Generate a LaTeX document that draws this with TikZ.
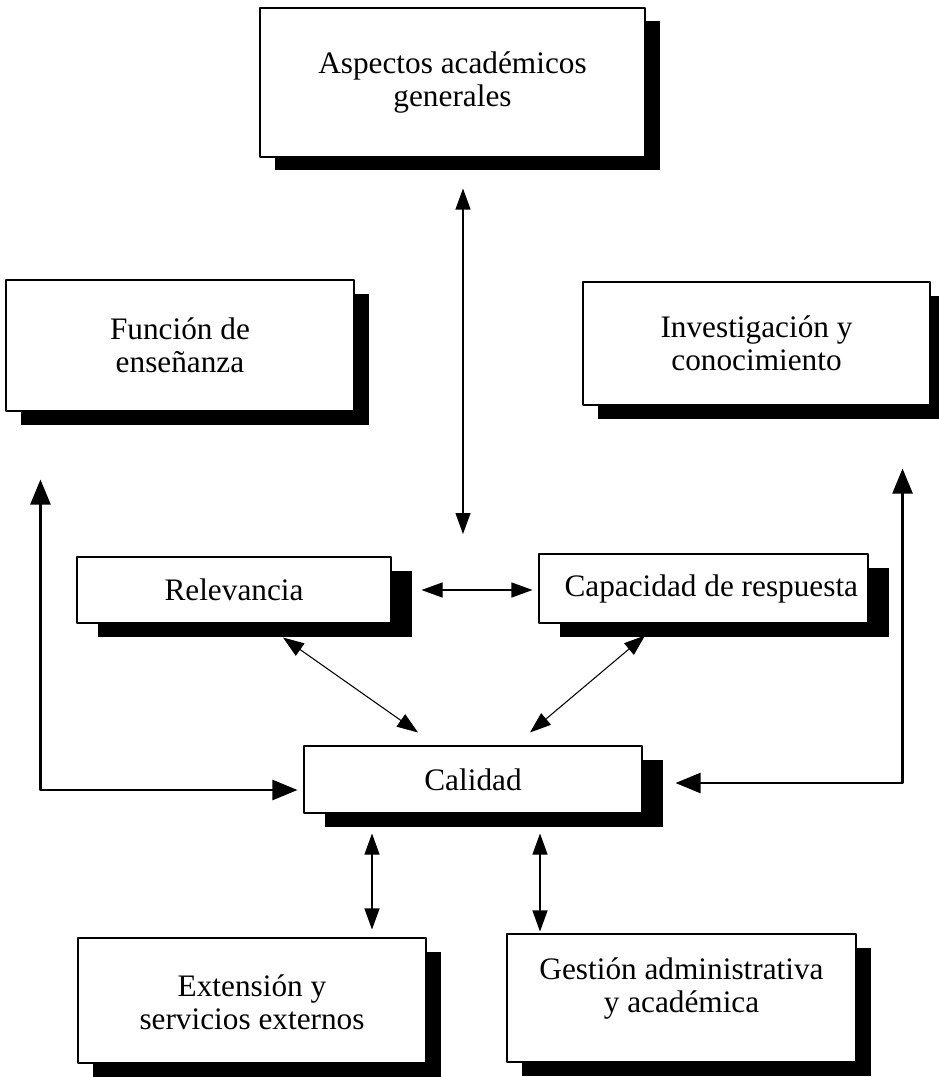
\documentclass[tikz,border=0pt]{standalone}
\usepackage{fontspec}
\setmainfont{Liberation Serif}
\usetikzlibrary{arrows.meta,shadows}

\begin{document}
\begin{tikzpicture}[font=\fontsize{17.8pt}{18.5pt}\selectfont, line join=round, line cap=round,
	>={Triangle[length=0.42cm,width=0.3cm]},
	caja/.style={draw, fill=white, line width=0.6pt, align=center, inner sep=0pt},
	sombra/.style={drop shadow={shadow xshift=#1, shadow yshift=-0.27cm, fill=black, opacity=1}},
	flecha/.style={<->, line width=0.6pt},
	gruesa/.style={<->, line width=1.4pt, >={Triangle[length=0.5cm,width=0.4cm]}}]
		\useasboundingbox (0,0) rectangle (18.76,-21.54);
		%\draw[gray!40,dashed] (0,0) grid (18.76,-21.54);
		\node[caja, sombra=0.3cm, minimum width=7.7cm, minimum height=2.98cm] (asp) at (9.05,-1.65) {Aspectos académicos\\generales};
		\node[caja, sombra=0.3cm, minimum width=6.96cm, minimum height=2.62cm] (fun) at (3.6,-6.91) {Función de\\enseñanza};
		\node[caja, sombra=0.3cm, minimum width=6.94cm, minimum height=2.46cm] (inv) at (15.13,-6.87) {Investigación y\\conocimiento};
		\node[caja, sombra=0.42cm, minimum width=6.28cm, minimum height=1.32cm] (rel) at (4.68,-11.8) {Relevancia};
		\node[caja, sombra=0.42cm, minimum width=6.58cm, minimum height=1.38cm] (cap) at (14.07,-11.77) {\hspace*{0.5em}Capacidad de respuesta};
		\node[caja, sombra=0.42cm, minimum width=6.76cm, minimum height=1.34cm] (cal) at (9.46,-15.59) {Calidad};
		\node[caja, sombra=0.3cm, minimum width=6.96cm, minimum height=2.5cm] (ext) at (5.04,-20.01) {\mbox{}\\[-4pt]Extensión y\\servicios externos};
		\node[caja, sombra=0.3cm, minimum width=6.98cm, minimum height=2.56cm] (ges) at (13.63,-19.96) {Gestión administrativa\\y académica\\[-4pt]\mbox{}};
		% flechas
		\coordinate (eje) at (9.26,-10.68);
		\draw[flecha, shorten <=0.62cm] (eje |- asp.south) -- (eje);
		\draw[flecha, shorten <=0.6cm, shorten >=0.12cm] (rel.east) -- (rel.east -| cap.west);
		\draw[flecha] ([xshift=0.98cm,yshift=-0.28cm]rel.south) -- ([xshift=-1.1cm,yshift=0.26cm]cal.north);
		\draw[flecha] ([xshift=-1.17cm,yshift=-0.24cm]cap.south) -- ([xshift=1.14cm,yshift=0.26cm]cal.north);
		\draw[gruesa] ([xshift=0.7cm,yshift=-1.36cm]fun.south west) |- ([xshift=-0.12cm,yshift=-0.21cm]cal.west);
		\draw[gruesa] ([xshift=-0.56cm,yshift=-1.26cm]inv.south east) |- ([xshift=0.66cm,yshift=-0.07cm]cal.east);
		\coordinate (e1) at ([xshift=2.4cm]ext.north);
		\coordinate (g1) at ([xshift=-2.83cm]ges.north);
		\draw[flecha, shorten <=0.16cm, shorten >=0.4cm] (e1) -- (e1 |- cal.south);
		\draw[flecha, shorten <=0.04cm, shorten >=0.4cm] (g1) -- (g1 |- cal.south);
	\end{tikzpicture}
\end{document}
